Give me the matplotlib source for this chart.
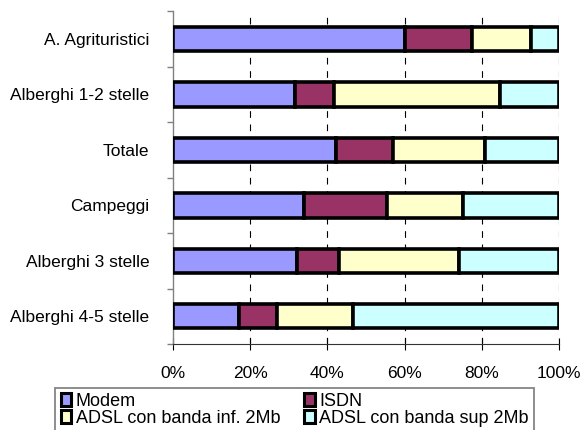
import numpy as np
import matplotlib.pyplot as plt
from matplotlib.patches import Patch

plt.rcParams['font.family'] = ['Liberation Sans', 'DejaVu Sans']

categories = ["A. Agrituristici", "Alberghi 1-2 stelle", "Totale",
              "Campeggi", "Alberghi 3 stelle", "Alberghi 4-5 stelle"]
series_names = ["Modem", "ISDN", "ADSL con banda inf. 2Mb", "ADSL con banda sup 2Mb"]
modem = [60.0, 31.5, 42.3, 34.0, 32.0, 17.0]
isdn = [17.5, 10.3, 14.7, 21.5, 10.9, 9.9]
adsl_inf = [15.2, 42.8, 23.8, 19.6, 31.1, 19.6]
adsl_sup = [7.3, 15.4, 19.2, 24.9, 26.0, 53.5]
colors = ["#9999FF", "#993366", "#FFFFCC", "#CCFFFF"]

fig = plt.figure(figsize=(5.81, 4.30), dpi=100)
ax = fig.add_axes([0.298, 0.2, 0.664, 0.774])

y = np.arange(len(categories))[::-1]
left = np.zeros(len(categories))
for vals, c in zip([modem, isdn, adsl_inf, adsl_sup], colors):
    ax.barh(y, vals, left=left, height=0.44, color=c, edgecolor="black",
            linewidth=2.6, zorder=3)
    left += np.array(vals)

ax.set_xlim(0, 100)
ax.set_ylim(-0.5, len(categories) - 0.5)
ax.set_xticks(np.arange(0, 101, 20))
ax.set_xticklabels([f"{v}%" for v in range(0, 101, 20)], fontsize=12.5)
ax.tick_params(axis="x", direction="inout", length=8, width=0.8, pad=12)

ax.set_yticks(y)
ax.set_yticklabels(categories, fontsize=12.5)
ax.set_yticks(np.arange(-0.5, len(categories), 1), minor=True)
ax.tick_params(axis="y", which="major", length=0, pad=17)
ax.tick_params(axis="y", which="minor", length=4, width=1, color="#808080")

for v in range(20, 101, 20):
    ax.axvline(v, color="black", linewidth=0.8, linestyle=(0, (6, 6)), zorder=1)

ax.spines["top"].set_visible(False)
ax.spines["right"].set_visible(False)
ax.spines["left"].set_color("#808080")
ax.spines["left"].set_linewidth(1.0)
ax.spines["bottom"].set_color("#333333")

handles = [Patch(facecolor=c, edgecolor="black", linewidth=2.2) for c in colors]
order = [0, 2, 1, 3]
leg = fig.legend([handles[i] for i in order], [series_names[i] for i in order],
                 loc="lower left", bbox_to_anchor=(0.095, -0.006),
                 ncol=2, fontsize=13, handlelength=0.6,
                 handleheight=0.75, handletextpad=0.25, borderaxespad=0,
                 borderpad=0.3, labelspacing=0.0, columnspacing=1.3,
                 fancybox=False, frameon=True)
leg.get_frame().set_edgecolor("#666666")
leg.get_frame().set_linewidth(1.3)

fig.savefig("out.png", dpi=100)
